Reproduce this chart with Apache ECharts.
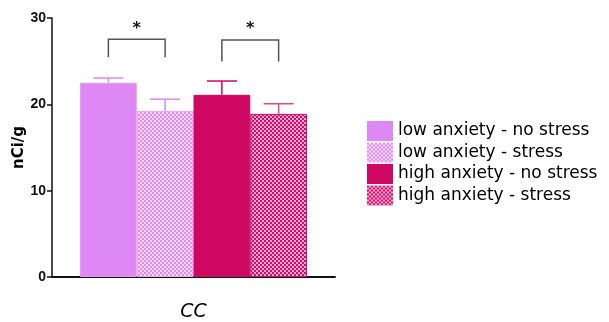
<!DOCTYPE html>
<html>
<head>
<meta charset="utf-8">
<script src="https://cdn.jsdelivr.net/npm/echarts@6/dist/echarts.min.js"></script>
<style>html,body{margin:0;padding:0;background:#fff;}#c{width:609px;height:322px;}</style>
</head>
<body>
<div id="c"></div>
<script>
const categories = ['CC'];
const seriesNames = ['low anxiety - no stress', 'low anxiety - stress', 'high anxiety - no stress', 'high anxiety - stress'];
const means = [22.5, 19.25, 21.1, 18.9];
const errors = [0.55, 1.35, 1.6, 1.17];
const yTicks = [0, 10, 20, 30];
// significance brackets: [first bar, second bar, top value, leg bottom value]
const brackets = [[0, 1, 27.55, 25.45], [2, 3, 27.45, 24.95]];
const starLevel = 29.1;

const BAR_W = 56.75;

function checker(c1, c2, s) {
  const cv = document.createElement('canvas');
  cv.width = 2 * s; cv.height = 2 * s;
  const ctx = cv.getContext('2d');
  ctx.fillStyle = c1; ctx.fillRect(0, 0, 2 * s, 2 * s);
  ctx.fillStyle = c2; ctx.fillRect(0, 0, s, s); ctx.fillRect(s, s, s, s);
  return { image: cv, repeat: 'repeat' };
}

const fills = [
  '#DD88F5',
  checker('#F6D6FC', '#DC8EF2', 2),
  '#CE0763',
  checker('#F7A8CE', '#D2106C', 2)
];
const borders = ['#E49AF7', '#E7A8F8', '#CE0763', '#D0106A'];
const errColors = ['#DD88F5', '#DD88F5', '#CE0763', '#E2458E'];

const chart = echarts.init(document.getElementById('c'), null, { renderer: 'canvas' });

const barSeries = seriesNames.map((n, i) => ({
  name: n,
  type: 'bar',
  barWidth: BAR_W,
  barGap: '0%',
  data: [means[i]],
  itemStyle: { color: fills[i], borderColor: borders[i], borderWidth: 1 },
  z: 2
}));

const errSeries = {
  type: 'custom',
  name: 'err',
  z: 3,
  data: means.map((m, i) => [0, i, m, m + errors[i]]),
  encode: { x: 0, y: 3 },
  renderItem: function (params, api) {
    const i = api.value(1);
    const base = api.coord([0, api.value(2)]);
    const top = api.coord([0, api.value(3)]);
    const x = base[0] + (i - 1.5) * BAR_W;
    const half = 15;
    const st = { stroke: errColors[i], lineWidth: 1.5 };
    return {
      type: 'group',
      children: [
        { type: 'line', shape: { x1: x, y1: base[1], x2: x, y2: top[1] }, style: st },
        { type: 'line', shape: { x1: x - half, y1: top[1], x2: x + half, y2: top[1] }, style: st }
      ]
    };
  }
};

const bracketSeries = {
  type: 'custom',
  name: 'sig',
  z: 4,
  data: brackets.map(b => [0, b[0], b[1], b[2], b[3]]),
  encode: { x: 0, y: 3 },
  renderItem: function (params, api) {
    const a = api.value(1), b = api.value(2);
    const t = api.coord([0, api.value(3)]);
    const bt = api.coord([0, api.value(4)]);
    const s = api.coord([0, starLevel]);
    const xa = t[0] + (a - 1.5) * BAR_W;
    const xb = t[0] + (b - 1.5) * BAR_W;
    return {
      type: 'group',
      children: [
        { type: 'polyline', shape: { points: [[xa, bt[1]], [xa, t[1]], [xb, t[1]], [xb, bt[1]]] },
          style: { stroke: '#555', lineWidth: 1.5, fill: null } },
        { type: 'text', style: { text: '*', x: (xa + xb) / 2, y: s[1] + 3, align: 'center', verticalAlign: 'middle',
          font: 'bold 16px "DejaVu Sans"', fill: '#111' } }
      ]
    };
  }
};

chart.setOption({
  animation: false,
  backgroundColor: '#fff',
  grid: { left: 52, right: 274, top: 18, bottom: 45 },
  legend: {
    data: seriesNames,
    orient: 'vertical',
    left: 362,
    top: 116,
    itemWidth: 26,
    itemHeight: 20,
    itemGap: 1.5,
    icon: 'rect',
    itemStyle: { borderWidth: 0 },
    textStyle: { fontFamily: 'DejaVu Sans', fontSize: 17, color: '#000', lineHeight: 20, padding: [0, 0, 0, 0] },
    selectedMode: false
  },
  xAxis: {
    type: 'category',
    data: categories,
    axisLine: { lineStyle: { color: '#111', width: 2 } },
    axisTick: { show: false },
    axisLabel: { fontFamily: 'DejaVu Sans', fontStyle: 'italic', fontSize: 19, color: '#000', margin: 26 }
  },
  yAxis: {
    type: 'value',
    min: yTicks[0],
    max: yTicks[yTicks.length - 1],
    interval: 10,
    name: 'nCi/g',
    nameLocation: 'middle',
    nameGap: 23,
    nameTextStyle: { fontFamily: 'DejaVu Sans', fontWeight: 'bold', fontSize: 15, color: '#000' },
    axisLine: { show: true, lineStyle: { color: '#111', width: 1.5 } },
    axisTick: { show: true, length: 5, lineStyle: { color: '#111', width: 1.5 } },
    axisLabel: { fontFamily: 'Liberation Sans', fontWeight: 'bold', fontSize: 14, color: '#111', margin: 6 },
    splitLine: { show: false }
  },
  series: barSeries.concat([errSeries, bracketSeries])
});
</script>
</body>
</html>
